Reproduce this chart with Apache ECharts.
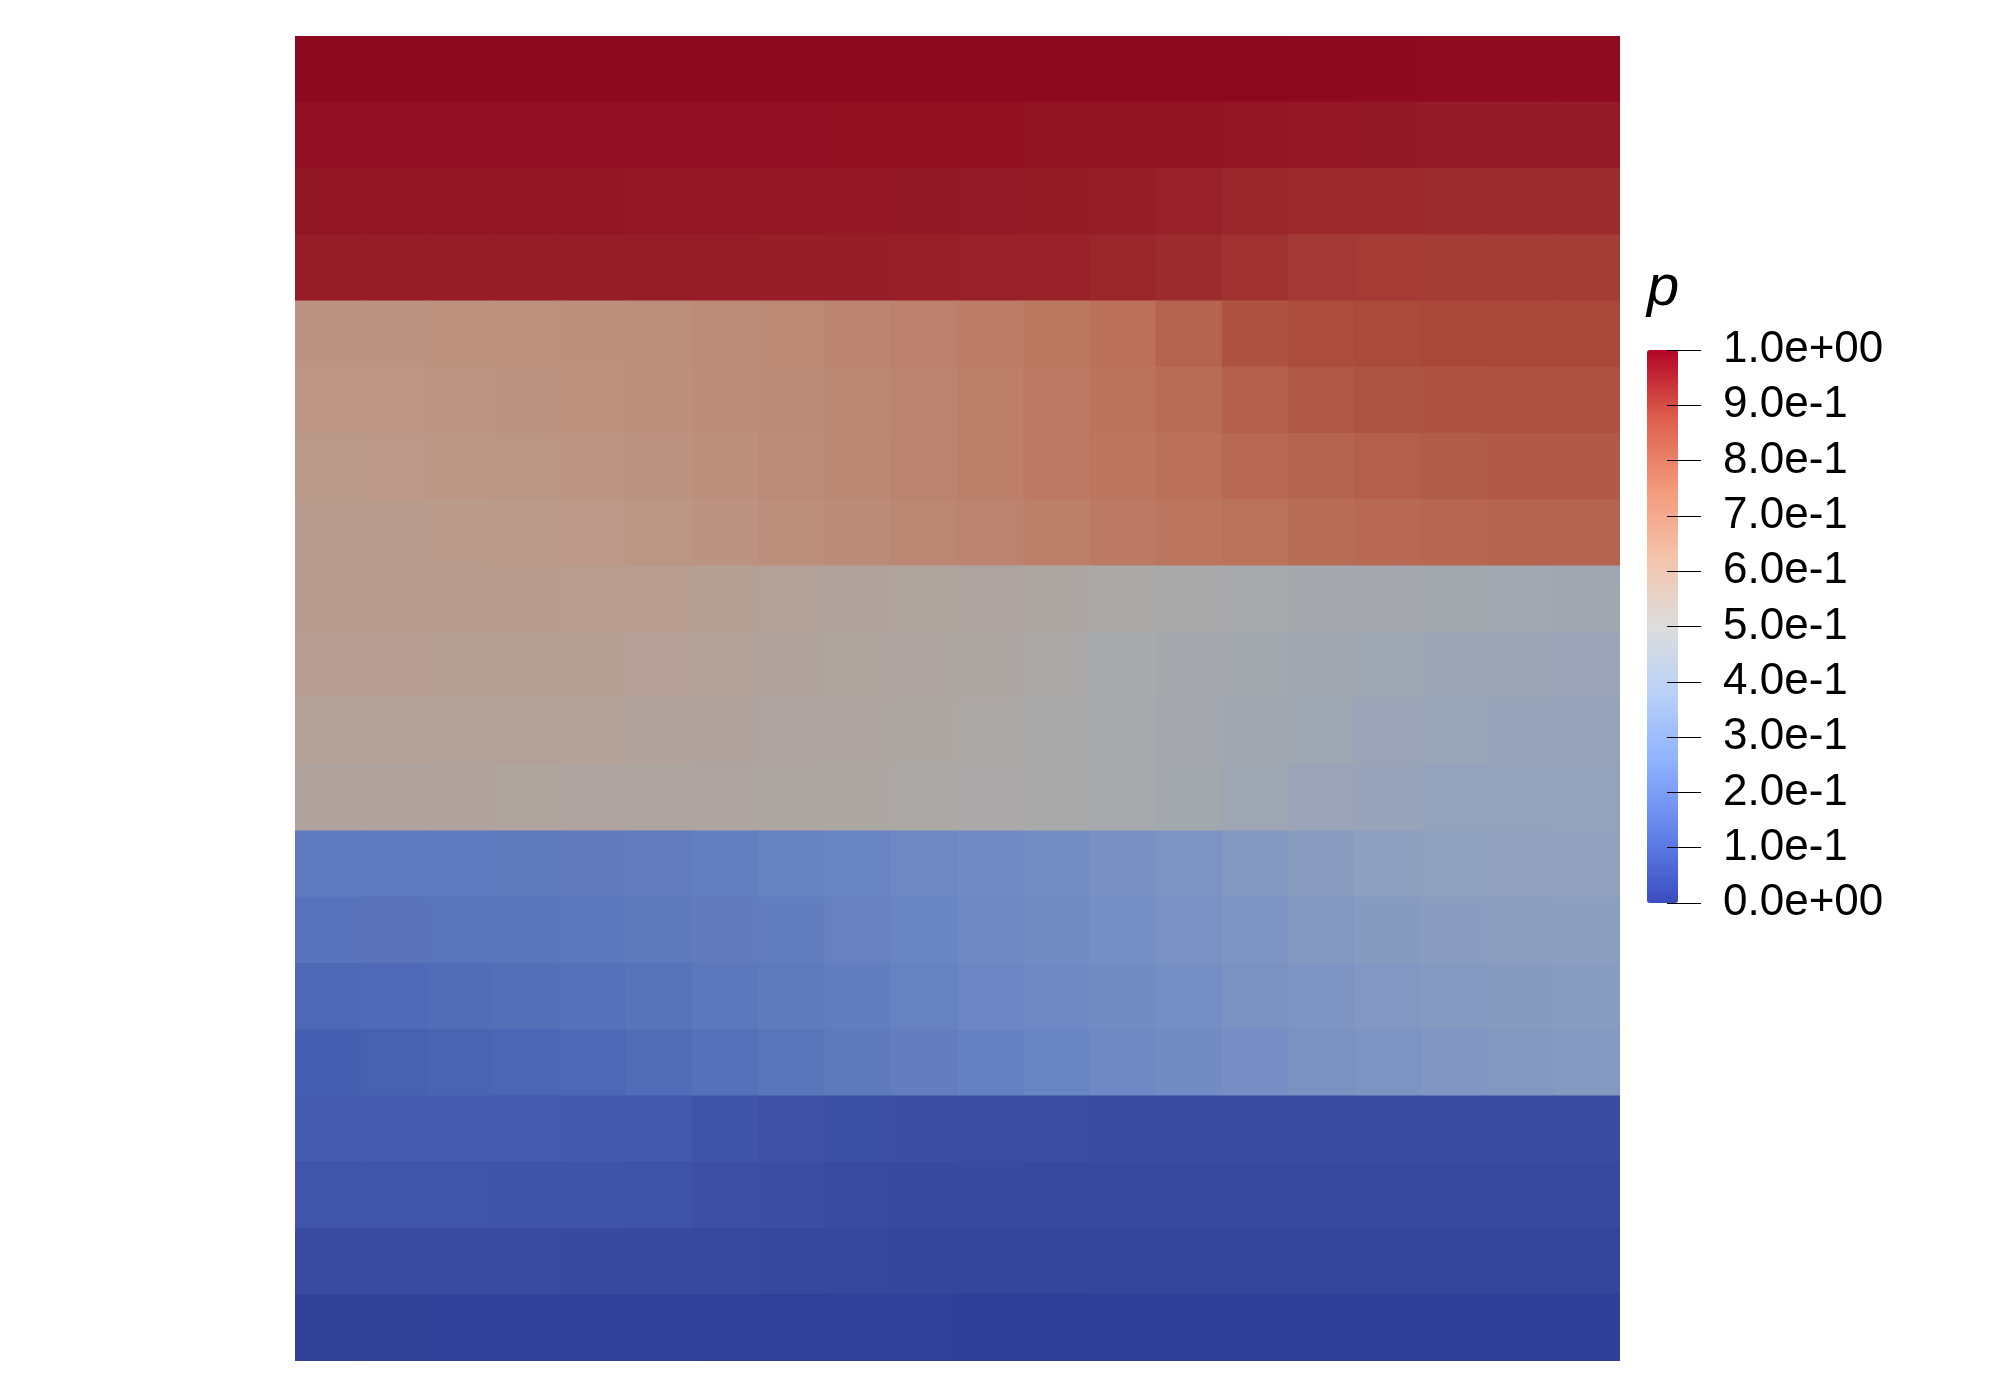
<!DOCTYPE html>
<html>
<head>
<meta charset="utf-8">
<script src="https://cdn.jsdelivr.net/npm/echarts@6/dist/echarts.min.js"></script>
<style>
html,body{margin:0;padding:0;background:#fff}
#box{width:1994px;height:1382px}
</style>
</head>
<body>
<div id="box"></div>
<script>
// cell centres (x left->right, y bottom->top)
var xCells = ['0.025','0.075','0.125','0.175','0.225','0.275','0.325','0.375','0.425','0.475',
              '0.525','0.575','0.625','0.675','0.725','0.775','0.825','0.875','0.925','0.975'];
var yCells = ['0.025','0.075','0.125','0.175','0.225','0.275','0.325','0.375','0.425','0.475',
              '0.525','0.575','0.625','0.675','0.725','0.775','0.825','0.875','0.925','0.975'];

// pressure p, rows written top -> bottom, one array per layer
var layer1 = [ // y 1.0 - 0.8
  [0.99,0.99,0.99,0.99,0.99,0.99,0.99,0.99,0.99,0.99,0.99,0.99,0.99,0.99,0.99,0.988,0.987,0.986,0.986,0.986],
  [0.978,0.978,0.978,0.978,0.978,0.978,0.977,0.977,0.976,0.976,0.975,0.974,0.972,0.97,0.967,0.964,0.962,0.96,0.96,0.96],
  [0.966,0.966,0.966,0.966,0.966,0.965,0.965,0.964,0.963,0.962,0.96,0.958,0.954,0.948,0.94,0.935,0.932,0.93,0.93,0.93],
  [0.955,0.955,0.955,0.955,0.955,0.955,0.954,0.953,0.952,0.95,0.948,0.945,0.94,0.93,0.915,0.905,0.9,0.898,0.898,0.898]
];
var layer2 = [ // y 0.8 - 0.6
  [0.64,0.64,0.645,0.645,0.65,0.655,0.665,0.675,0.69,0.705,0.72,0.74,0.765,0.8,0.85,0.87,0.875,0.88,0.88,0.88],
  [0.63,0.63,0.635,0.64,0.645,0.65,0.66,0.67,0.685,0.7,0.715,0.735,0.755,0.78,0.81,0.83,0.845,0.85,0.855,0.855],
  [0.615,0.618,0.622,0.628,0.635,0.642,0.652,0.665,0.68,0.695,0.71,0.73,0.745,0.765,0.785,0.8,0.815,0.825,0.83,0.83],
  [0.6,0.6,0.605,0.61,0.618,0.628,0.64,0.655,0.67,0.685,0.7,0.715,0.73,0.745,0.76,0.775,0.785,0.795,0.8,0.8]
];
var layer3 = [ // y 0.6 - 0.4
  [0.6,0.6,0.6,0.598,0.595,0.59,0.575,0.56,0.55,0.54,0.53,0.52,0.51,0.5,0.49,0.48,0.475,0.47,0.465,0.46],
  [0.58,0.58,0.578,0.575,0.572,0.568,0.56,0.55,0.54,0.53,0.52,0.51,0.495,0.48,0.47,0.46,0.45,0.44,0.435,0.43],
  [0.56,0.56,0.558,0.556,0.553,0.55,0.545,0.537,0.53,0.522,0.512,0.5,0.49,0.475,0.46,0.445,0.43,0.42,0.415,0.41],
  [0.545,0.545,0.543,0.54,0.538,0.535,0.53,0.525,0.52,0.512,0.505,0.498,0.485,0.47,0.45,0.43,0.415,0.405,0.4,0.4]
];
var layer4 = [ // y 0.4 - 0.2
  [0.2,0.2,0.2,0.202,0.205,0.21,0.218,0.228,0.24,0.252,0.265,0.278,0.292,0.31,0.335,0.36,0.375,0.385,0.39,0.392],
  [0.17,0.175,0.18,0.185,0.19,0.197,0.205,0.215,0.227,0.24,0.253,0.267,0.28,0.295,0.315,0.335,0.35,0.36,0.368,0.372],
  [0.14,0.145,0.152,0.16,0.168,0.178,0.19,0.202,0.215,0.228,0.242,0.255,0.268,0.282,0.298,0.315,0.33,0.342,0.35,0.355],
  [0.11,0.115,0.122,0.13,0.14,0.152,0.168,0.183,0.198,0.212,0.226,0.24,0.254,0.268,0.283,0.298,0.312,0.325,0.335,0.34]
];
var layer5 = [ // y 0.2 - 0.0
  [0.1,0.1,0.1,0.098,0.095,0.09,0.075,0.065,0.06,0.057,0.055,0.054,0.053,0.052,0.052,0.052,0.052,0.052,0.052,0.052],
  [0.08,0.08,0.079,0.077,0.074,0.07,0.062,0.055,0.05,0.047,0.045,0.043,0.042,0.041,0.04,0.04,0.04,0.04,0.04,0.04],
  [0.05,0.05,0.049,0.048,0.046,0.044,0.04,0.036,0.033,0.031,0.03,0.029,0.028,0.027,0.027,0.027,0.027,0.027,0.027,0.027],
  [0.017,0.017,0.016,0.016,0.015,0.015,0.014,0.013,0.012,0.011,0.01,0.01,0.01,0.01,0.01,0.01,0.01,0.01,0.01,0.01]
];

// colour bar tick labels (bottom -> top)
var barLabels = ['0.0e+00','1.0e-1','2.0e-1','3.0e-1','4.0e-1','5.0e-1','6.0e-1','7.0e-1','8.0e-1','9.0e-1','1.0e+00'];

// Cool to Warm as on the colour bar, and the shaded version seen on the surface
var coolWarm = ['#3b4cc0','#6282ea','#8db0fe','#b8d0f9','#dddddd','#f5c4ac','#f4987a','#dd604c','#b40426'];
var coolWarmShaded = ['#2d3b94','#4b64b4','#6d88c4','#8ea0c0','#aaaaaa','#bc9785','#bc755e','#aa4a3b','#8b031d'];

var rows = layer1.concat(layer2, layer3, layer4, layer5);
var cells = [];
rows.forEach(function (row, i) {
    row.forEach(function (v, j) {
        cells.push([j, rows.length - 1 - i, v]);
    });
});

// one rect per cell, a hair bigger so no seams show between neighbours
function renderCell(params, api) {
    var c = api.coord([api.value(0), api.value(1)]);
    var s = api.size([1, 1]);
    return {
        type: 'rect',
        shape: {x: c[0] - s[0] / 2 - 0.6, y: c[1] - s[1] / 2 - 0.6, width: s[0] + 1.2, height: s[1] + 1.2},
        style: {fill: api.visual('color')}
    };
}

var chart = echarts.init(document.getElementById('box'));
var option = {
    backgroundColor: '#ffffff',
    animation: false,
    grid: [
        {left: 295, top: 36, width: 1325, height: 1325},
        {left: 1667, top: 350, width: 60, height: 553}   // colour bar ticks
    ],
    xAxis: [
        {type: 'category', data: xCells, gridIndex: 0, show: false},
        {type: 'value', gridIndex: 1, show: false}
    ],
    yAxis: [
        {type: 'category', data: yCells, gridIndex: 0, show: false},
        {
            type: 'value', gridIndex: 1, position: 'left',
            min: 0, max: 1, interval: 0.1,
            axisLine: {show: false},
            splitLine: {show: false},
            axisTick: {show: true, inside: true, length: 34, lineStyle: {color: '#000', width: 1}},
            axisLabel: {
                inside: true,
                margin: 56,
                color: '#000',
                fontSize: 44,
                fontFamily: 'Liberation Sans',
                formatter: function (v) { return barLabels[Math.round(v * 10)]; }
            },
            z: 10
        }
    ],
    visualMap: [
        {   // colours the field
            type: 'continuous', show: false, seriesIndex: 0, dimension: 2,
            min: 0, max: 1,
            inRange: {color: coolWarmShaded}
        },
        {   // the colour bar
            type: 'continuous', seriesIndex: [],
            min: 0, max: 1,
            calculable: false,
            left: 1647, top: 350, padding: 0,
            itemWidth: 31, itemHeight: 553,
            inRange: {color: coolWarm},
            z: 1
        }
    ],
    graphic: [{
        type: 'text', left: 1647, top: 260,
        style: {text: 'p', font: 'italic 58px "Liberation Sans"', fill: '#000'}
    }],
    series: [{
        type: 'custom',
        xAxisIndex: 0, yAxisIndex: 0,
        renderItem: renderCell,
        encode: {x: 0, y: 1},
        clip: true,
        data: cells
    }]
};
chart.setOption(option);
</script>
</body>
</html>
